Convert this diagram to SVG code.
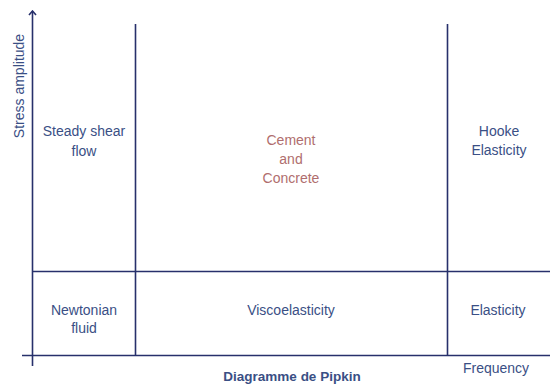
<svg xmlns="http://www.w3.org/2000/svg" width="550" height="386" viewBox="0 0 550 386">
<defs>
<style>
.ln{stroke:#27306b;stroke-width:1.6;fill:none}
.t{font-family:"Liberation Sans",Arial,sans-serif;font-size:14px;fill:#3a4f85;text-anchor:middle}
.c{fill:#b06e6e}
.b{font-weight:bold;font-size:13.5px}
</style>
<marker id="arr" markerWidth="10" markerHeight="10" refX="9" refY="5" orient="auto" markerUnits="userSpaceOnUse" viewBox="0 0 10 10">
<path d="M5,1.5 L9,5 L5,8.5" stroke="#27306b" stroke-width="1.6" fill="none"/>
</marker>
</defs>
<g id="connectors">
<line class="ln" x1="32.5" y1="366" x2="32.5" y2="11" marker-end="url(#arr)"/>
<line class="ln" x1="22" y1="355.5" x2="550" y2="355.5"/>
<line class="ln" x1="135.5" y1="24" x2="135.5" y2="355.5"/>
<line class="ln" x1="447.5" y1="24" x2="447.5" y2="355.5"/>
<line class="ln" x1="32.5" y1="271.5" x2="550" y2="271.5"/>
</g>
<g id="steady"><text class="t" x="84" y="136">Steady shear</text><text class="t" x="84" y="156">flow</text></g>
<g id="cement"><text class="t c" x="291" y="145">Cement</text><text class="t c" x="291" y="164">and</text><text class="t c" x="291" y="183">Concrete</text></g>
<g id="hooke"><text class="t" x="499" y="136">Hooke</text><text class="t" x="499" y="155">Elasticity</text></g>
<g id="newtonian"><text class="t" x="84" y="315">Newtonian</text><text class="t" x="84" y="333">fluid</text></g>
<g id="visco"><text class="t" x="291" y="315">Viscoelasticity</text></g>
<g id="elasticity"><text class="t" x="498" y="315">Elasticity</text></g>
<g id="axes-labels">
<text class="t" x="496" y="373">Frequency</text>
<text class="t" transform="translate(24,86) rotate(-90)">Stress amplitude</text>
<text class="t b" x="292" y="381">Diagramme de Pipkin</text>
</g>
</svg>
